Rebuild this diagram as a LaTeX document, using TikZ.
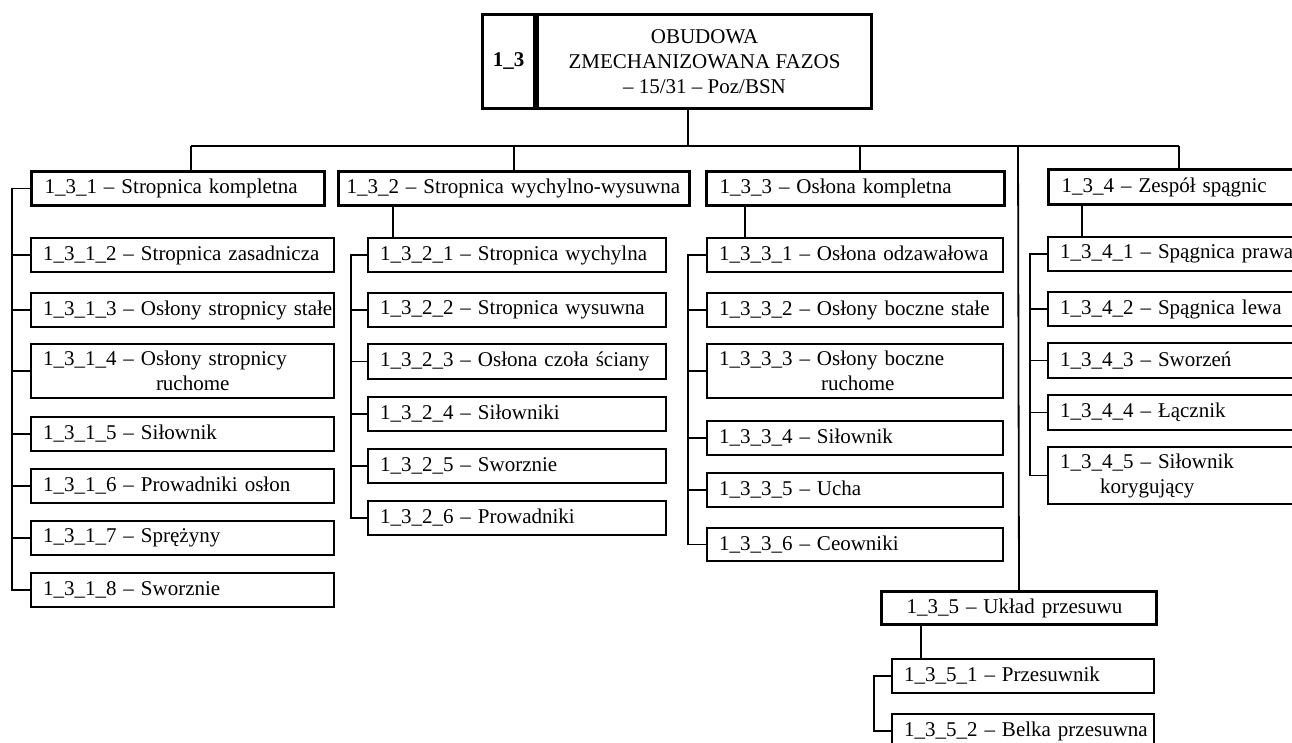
\documentclass[tikz,border=0pt]{standalone}
\usepackage{fontspec}
\setmainfont{Liberation Serif}
\usetikzlibrary{positioning}
\tikzset{%
	head/.style  = {draw, rectangle, line width=3pt, anchor=north west, minimum height=94pt, inner sep=0pt, align=center},
	group/.style = {draw, rectangle, line width=3pt, anchor=north west, inner xsep=13pt, inner ysep=0pt, minimum height=34pt, align=left},
	item/.style  = {draw, rectangle, line width=2pt, anchor=north west, inner xsep=12pt, inner ysep=0pt, minimum height=34pt, align=left},
	link/.style  = {line width=1.8pt},
	waypoint/.style = {coordinate},
}
\begin{document}
\begin{tikzpicture}[x=1pt,y=-1pt,font=\fontsize{21}{25}\selectfont]
	\clip (0,0) rectangle (1292,743);
	% title
	\node [head, minimum width=52pt] (topid) at (481,13) {\bfseries 1\_3};
	\node [head, minimum width=334pt, right=0pt of topid] (top) {OBUDOWA\\ZMECHANIZOWANA FAZOS\\– 15/31 – Poz/BSN};

	% main groups
	\node [group, text width=267pt] (g131) at (30,170) {1\_3\_1 – Stropnica kompletna};
	\node [group, inner xsep=8pt, text width=335pt] (g132) at (337,170) {\mbox{1\_3\_2 – Stropnica wychylno-wysuwna}};
	\node [group, text width=272pt] (g133) at (705,170) {1\_3\_3 – Osłona kompletna};
	\node [group, text width=238pt, minimum height=35pt] (g134) at (1047,168) {1\_3\_4 – Zespół spągnic};
	\node [group, inner xsep=25pt, text width=225pt, minimum height=33pt] (g135) at (880,590) {1\_3\_5 – Układ przesuwu};

	% 1_3_1
	\node [item, text width=279pt] (i1312) at (30,237) {1\_3\_1\_2 – Stropnica zasadnicza};
	\node [item, text width=279pt] (i1313) at (30,292) {\mbox{1\_3\_1\_3 – Osłony stropnicy stałe}};
	\node [item, text width=279pt, minimum height=54pt] (i1314) at (30,343) {1\_3\_1\_4 – Osłony stropnicy\\\hspace*{113pt}ruchome};
	\node [item, text width=279pt] (i1315) at (30,416) {1\_3\_1\_5 – Siłownik};
	\node [item, text width=279pt] (i1316) at (30,468) {1\_3\_1\_6 – Prowadniki osłon};
	\node [item, text width=279pt] (i1317) at (30,520) {1\_3\_1\_7 – Sprężyny};
	\node [item, text width=279pt] (i1318) at (30,572) {1\_3\_1\_8 – Sworznie};

	% 1_3_2
	\node [item, text width=274pt] (i1321) at (367,237) {1\_3\_2\_1 – Stropnica wychylna};
	\node [item, text width=274pt] (i1322) at (367,292) {1\_3\_2\_2 – Stropnica wysuwna};
	\node [item, text width=274pt, minimum height=35pt] (i1323) at (367,343) {\mbox{1\_3\_2\_3 – Osłona czoła ściany}};
	\node [item, text width=274pt] (i1324) at (367,396) {1\_3\_2\_4 – Siłowniki};
	\node [item, text width=274pt] (i1325) at (367,448) {1\_3\_2\_5 – Sworznie};
	\node [item, text width=274pt] (i1326) at (367,500) {1\_3\_2\_6 – Prowadniki};

	% 1_3_3
	\node [item, text width=272pt] (i1331) at (706,237) {1\_3\_3\_1 – Osłona odzawałowa};
	\node [item, text width=272pt] (i1332) at (706,292) {\mbox{1\_3\_3\_2 – Osłony boczne stałe}};
	\node [item, text width=272pt, minimum height=54pt] (i1333) at (706,343) {1\_3\_3\_3 – Osłony boczne\\\hspace*{102pt}ruchome};
	\node [item, text width=272pt] (i1334) at (706,420) {1\_3\_3\_4 – Siłownik};
	\node [item, text width=272pt] (i1335) at (706,472) {1\_3\_3\_5 – Ucha};
	\node [item, text width=272pt, minimum height=33pt] (i1336) at (706,527) {1\_3\_3\_6 – Ceowniki};

	% 1_3_4
	\node [item, text width=238pt] (i1341) at (1047,236) {\mbox{1\_3\_4\_1 – Spągnica prawa}};
	\node [item, text width=238pt] (i1342) at (1047,291) {1\_3\_4\_2 – Spągnica lewa};
	\node [item, text width=238pt, minimum height=35pt] (i1343) at (1047,342) {1\_3\_4\_3 – Sworzeń};
	\node [item, text width=238pt, minimum height=35pt] (i1344) at (1047,394) {1\_3\_4\_4 – Łącznik};
	\node [item, text width=238pt, minimum height=57pt] (i1345) at (1047,446) {1\_3\_4\_5 – Siłownik\\\hspace*{40pt}korygujący};

	% 1_3_5
	\node [item, text width=238pt] (i1351) at (891,658) {1\_3\_5\_1 – Przesuwnik};
	\node [item, text width=238pt] (i1352) at (891,713) {\mbox{1\_3\_5\_2 – Belka przesuwna}};

	% tree bus
	\node [waypoint] (bus) at (688,146) {};
	\node [waypoint] (j1) at (191,146) {};
	\node [waypoint] (j2) at (514,146) {};
	\node [waypoint] (j3) at (860,146) {};
	\node [waypoint] (j4) at (1018,146) {};
	\node [waypoint] (j5) at (1179,146) {};
	\draw [link] (top.south -| bus) -- (bus);
	\draw [link] (j1) -- (j5);
	\draw [link] (j1) -- (j1 |- g131.north);
	\draw [link] (j2) -- (j2 |- g132.north);
	\draw [link] (j3) -- (j3 |- g133.north);
	\draw [link] (j4) -- (g135.north);
	\draw [link] (j5) -- (j5 |- g134.north);

	% drops to first child
	\node [waypoint] (d2) at (393,0) {};
	\node [waypoint] (d3) at (745,0) {};
	\node [waypoint] (d4) at (1082,0) {};
	\node [waypoint] (d5) at (921,0) {};
	\draw [link] (g132.south -| d2) -- (i1321.north -| d2);
	\draw [link] (g133.south -| d3) -- (i1331.north -| d3);
	\draw [link] (g134.south -| d4) -- (i1341.north -| d4);
	\draw [link] (g135.south -| d5) -- (i1351.north -| d5);

	% brackets
	\node [waypoint] (b1) at (12,0) {};
	\node [waypoint] (b2) at (351,0) {};
	\node [waypoint] (b3) at (688,0) {};
	\node [waypoint] (b4) at (1030,0) {};
	\node [waypoint] (b5) at (874,0) {};
	\draw [link] (g131.west) -| (b1 |- i1318.west) -- (i1318.west);
	\foreach \n in {i1312,i1313,i1314,i1315,i1316,i1317}
		\draw [link] (\n.west) -- (b1 |- \n.west);
	\draw [link] (i1321.west) -| (b2 |- i1326.west) -- (i1326.west);
	\foreach \n in {i1322,i1323,i1324,i1325}
		\draw [link] (\n.west) -- (b2 |- \n.west);
	\draw [link] (i1331.west) -| (b3 |- i1336.west) -- (i1336.west);
	\foreach \n in {i1332,i1333,i1334,i1335}
		\draw [link] (\n.west) -- (b3 |- \n.west);
	\draw [link] (i1341.west) -| (b4 |- i1345.west) -- (i1345.west);
	\foreach \n in {i1342,i1343,i1344}
		\draw [link] (\n.west) -- (b4 |- \n.west);
	\draw [link] (i1351.west) -| (b5 |- i1352.west) -- (i1352.west);
\end{tikzpicture}
\end{document}
